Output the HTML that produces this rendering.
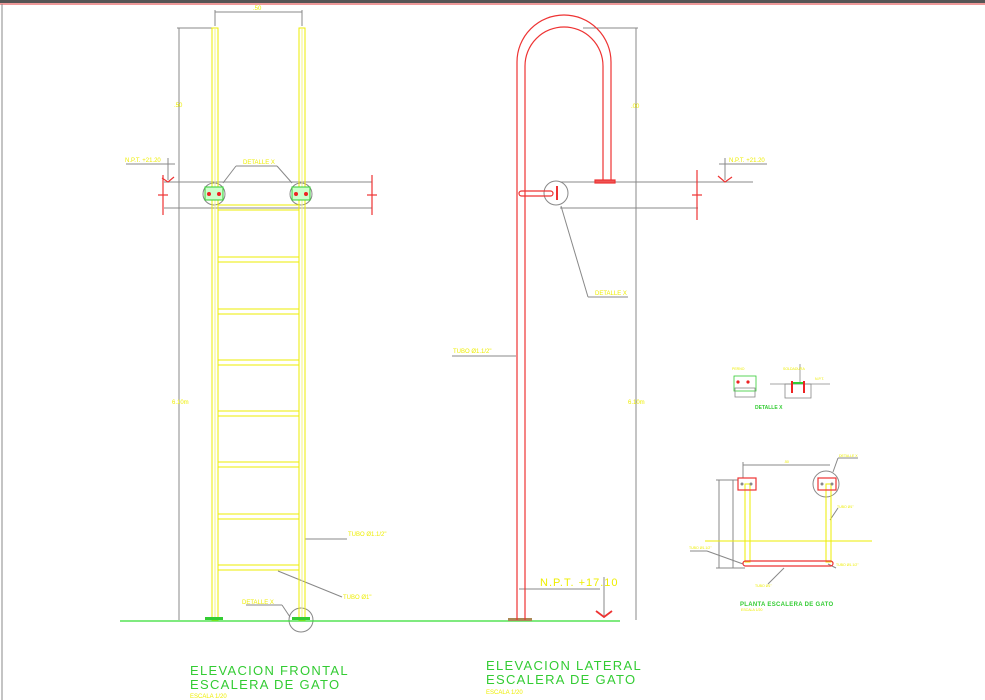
<!DOCTYPE html>
<html><head><style>
html,body{margin:0;padding:0;background:#fff;}
svg{display:block;}
text{font-family:"Liberation Sans",sans-serif;}
</style></head><body>
<svg width="985" height="700" viewBox="0 0 985 700" xmlns="http://www.w3.org/2000/svg">
<rect x="0" y="0" width="985" height="700" fill="#fff"/>
<rect x="0" y="0" width="985" height="3" fill="#555"/>
<line x1="0" y1="4" x2="985" y2="4" stroke="#d33" stroke-width="1"/>
<line x1="2" y1="4" x2="2" y2="700" stroke="#888" stroke-width="1"/>

<!-- FRONT ELEVATION -->
<g fill="none" stroke-width="1">
  <!-- dims -->
  <g stroke="#888">
    <line x1="215" y1="12" x2="302" y2="12"/>
    <line x1="215" y1="10" x2="215" y2="26"/><line x1="302" y1="10" x2="302" y2="26"/>
    <line x1="179" y1="28" x2="179" y2="620"/>
    <line x1="177" y1="28" x2="212" y2="28"/>
    <line x1="164" y1="182" x2="372" y2="182"/>
    <line x1="164" y1="208" x2="372" y2="208"/>
    <line x1="126" y1="164" x2="175" y2="164"/>
    <line x1="168" y1="158" x2="168" y2="180"/>
    <line x1="236" y1="166" x2="277" y2="166"/>
    <line x1="236" y1="166" x2="223" y2="183"/>
    <line x1="277" y1="166" x2="292" y2="183"/>
    <circle cx="214" cy="194" r="11"/>
    <circle cx="301" cy="194" r="11"/>
    <circle cx="301" cy="620" r="12"/>
    <line x1="246" y1="605" x2="282" y2="605"/>
    <line x1="282" y1="605" x2="290" y2="617"/>
    <line x1="305" y1="539" x2="347" y2="539"/>
    <line x1="278" y1="571" x2="342" y2="597"/>
  </g>
  <g stroke="#e33" stroke-width="1.2">
    <line x1="163" y1="175" x2="163" y2="215"/><line x1="158" y1="195" x2="168" y2="195"/>
    <line x1="372" y1="175" x2="372" y2="215"/><line x1="367" y1="195" x2="377" y2="195"/>
    <polyline points="162,178 168,182 174,177"/>
  </g>
  <!-- rails -->
  <g stroke="#ee0">
    <rect x="212" y="28" width="6" height="592"/>
    <rect x="299" y="28" width="6" height="592"/>
    <line x1="215" y1="28" x2="215" y2="620" stroke="#f4f480"/>
    <line x1="302" y1="28" x2="302" y2="620" stroke="#f4f480"/>
  </g>
  <g stroke="#ee0">
    <rect x="218" y="205" width="81" height="5"/>
    <rect x="218" y="257" width="81" height="5"/>
    <rect x="218" y="309" width="81" height="5"/>
    <rect x="218" y="360" width="81" height="5"/>
    <rect x="218" y="411" width="81" height="5"/>
    <rect x="218" y="462" width="81" height="5"/>
    <rect x="218" y="514" width="81" height="5"/>
    <rect x="218" y="565" width="81" height="5"/>
  </g>
  <rect x="205" y="187" width="18" height="13" stroke="#3c3" fill="#cfc"/>
  <rect x="292" y="187" width="18" height="13" stroke="#3c3" fill="#cfc"/>
</g>
<g fill="#e22"><circle cx="209" cy="194" r="2"/><circle cx="219" cy="194" r="2"/><circle cx="296" cy="194" r="2"/><circle cx="306" cy="194" r="2"/></g>
<g fill="#ee0" font-size="6">
  <text x="253" y="10">.50</text>
  <text x="174" y="107">.50</text>
  <text x="172" y="404">6.10m</text>
  <text x="125" y="162">N.P.T. +21.20</text>
  <text x="243" y="164">DETALLE X</text>
  <text x="242" y="604">DETALLE X</text>
  <text x="348" y="536">TUBO Ø1.1/2"</text>
  <text x="343" y="599">TUBO Ø1"</text>
</g>

<!-- ground -->
<line x1="120" y1="621" x2="620" y2="621" stroke="#3d3" stroke-width="1.3"/>
<rect x="205" y="617" width="18" height="3" fill="#3c3"/>
<rect x="292" y="617" width="18" height="3" fill="#3c3"/>
<rect x="508" y="618" width="24" height="3" fill="#a85"/>

<!-- LATERAL ELEVATION -->
<g fill="none" stroke-width="1.2">
  <g stroke="#888" stroke-width="1">
    <line x1="636" y1="28" x2="636" y2="620"/>
    <line x1="583" y1="28" x2="638" y2="28"/>
    <line x1="560" y1="182" x2="753" y2="182"/>
    <line x1="560" y1="208" x2="698" y2="208"/>
    <line x1="719" y1="164" x2="767" y2="164"/>
    <line x1="725" y1="158" x2="725" y2="180"/>
    <circle cx="556" cy="193" r="12"/>
    <line x1="561" y1="206" x2="588" y2="297"/>
    <line x1="588" y1="297" x2="628" y2="297"/>
    <line x1="452" y1="356" x2="516" y2="356"/>
    <line x1="519" y1="589" x2="600" y2="589"/>
    <line x1="604" y1="577" x2="604" y2="618"/>
  </g>
  <g stroke="#e33">
    <path d="M517,620 L517,62 A47,47 0 0 1 611,62 L611,180"/>
    <path d="M525,620 L525,66 A39,39 0 0 1 603,66 L603,180"/>
    <rect x="595" y="180" width="20" height="3" fill="#e55"/>
    <rect x="519" y="191" width="34" height="5" rx="2.5"/>
    <line x1="557" y1="186" x2="557" y2="200" stroke-width="2"/>
    <line x1="697" y1="170" x2="697" y2="220"/><line x1="692" y1="195" x2="702" y2="195"/>
    <polyline points="718,176 725,182 732,177"/>
    <polyline points="596,611 604,617 612,611" stroke-width="1.8"/>
  </g>
</g>
<g fill="#ee0" font-size="6">
  <text x="631" y="108">.00</text>
  <text x="628" y="404">6.10m</text>
  <text x="729" y="162">N.P.T. +21.20</text>
  <text x="595" y="295">DETALLE X</text>
  <text x="453" y="353">TUBO Ø1.1/2"</text>
</g>
<text x="540" y="586" fill="#ee0" font-size="11" letter-spacing="1">N.P.T.  +17.10</text>

<!-- DETAIL X small -->
<g fill="none" stroke="#888" stroke-width="0.8">
  <rect x="734" y="376" width="22" height="15" stroke="#3c3"/>
  <rect x="735" y="388" width="20" height="9"/>
  <line x1="770" y1="384" x2="830" y2="384"/>
  <rect x="785" y="384" width="26" height="14"/>
  <line x1="800" y1="364" x2="800" y2="384"/>
</g>
<g fill="#e22"><circle cx="738" cy="382" r="1.6"/><circle cx="748" cy="382" r="1.6"/>
<rect x="791" y="381" width="2" height="12"/><rect x="803" y="381" width="2" height="12"/></g>
<rect x="793" y="382" width="10" height="2" fill="#3c3"/>
<text x="755" y="409" fill="#3c3" font-size="5" font-weight="bold">DETALLE X</text>
<g fill="#ee0" font-size="3.5"><text x="732" y="370">PERNO</text><text x="783" y="370">SOLDADURA</text><text x="815" y="380">N.P.T.</text></g>

<!-- PLANTA -->
<g fill="none" stroke-width="1">
  <g stroke="#888">
    <line x1="743" y1="465" x2="830" y2="465"/>
    <line x1="743" y1="462" x2="743" y2="478"/>
    <line x1="719" y1="480" x2="719" y2="568"/>
    <line x1="733" y1="480" x2="733" y2="568"/>
    <line x1="716" y1="480" x2="738" y2="480"/>
    <line x1="716" y1="568" x2="745" y2="568"/>
    <circle cx="826" cy="484" r="13"/>
    <line x1="833" y1="472" x2="838" y2="458"/>
    <line x1="838" y1="458" x2="858" y2="458"/>
    <line x1="690" y1="551" x2="707" y2="551"/>
    <line x1="707" y1="551" x2="743" y2="564"/>
    <line x1="784" y1="568" x2="768" y2="584"/>
    <line x1="828" y1="564" x2="836" y2="568"/>
    <line x1="830" y1="520" x2="838" y2="508"/>
  </g>
  <line x1="705" y1="541" x2="872" y2="541" stroke="#ee0"/>
  <g stroke="#ee0"><rect x="745" y="484" width="5" height="78"/><rect x="826" y="484" width="5" height="78"/></g>
  <g stroke="#e33" stroke-width="1.2">
    <rect x="738" y="478" width="18" height="12"/>
    <rect x="818" y="478" width="18" height="12"/>
    <rect x="743" y="561" width="90" height="5" rx="2.5"/>
  </g>
</g>
<g fill="#888"><circle cx="742" cy="484" r="1.5"/><circle cx="751" cy="484" r="1.5"/><circle cx="822" cy="484" r="1.5"/><circle cx="832" cy="484" r="1.5"/></g>
<g fill="#ee0" font-size="3.5"><text x="784" y="463">.50</text><text x="839" y="457">DETALLE X</text><text x="837" y="508">TUBO Ø1"</text><text x="689" y="549">TUBO Ø1.1/2"</text><text x="836" y="566">TUBO Ø1.1/2"</text><text x="755" y="587">TUBO Ø1"</text></g>
<text x="740" y="606" fill="#3c3" font-size="6" font-weight="bold" letter-spacing="0.3">PLANTA ESCALERA DE GATO</text>
<text x="741" y="611" fill="#ee0" font-size="3.5">ESCALA 1/20</text>

<!-- TITLES -->
<g fill="#3c3" font-size="13" letter-spacing="1.3">
  <text x="190" y="675">ELEVACION FRONTAL</text>
  <text x="190" y="689">ESCALERA DE GATO</text>
  <text x="486" y="670">ELEVACION LATERAL</text>
  <text x="486" y="684">ESCALERA DE GATO</text>
</g>
<g fill="#ee0" font-size="6"><text x="190" y="698">ESCALA 1/20</text><text x="486" y="694">ESCALA 1/20</text></g>
</svg>
</body></html>
